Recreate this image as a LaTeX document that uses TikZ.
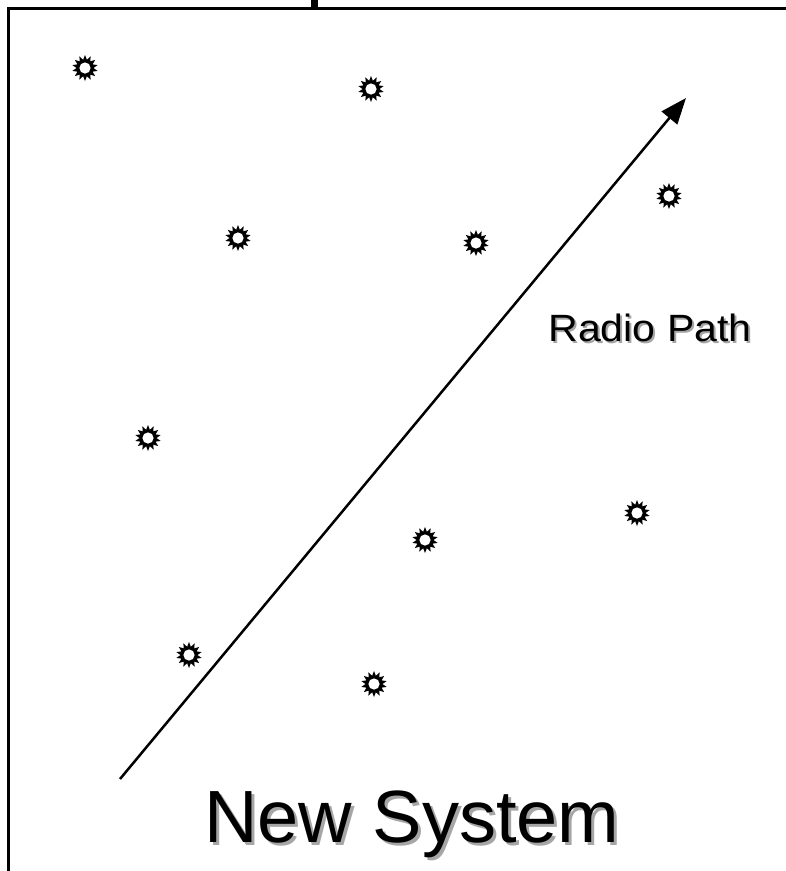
\documentclass[tikz,border=0pt]{standalone}
\usepackage{fontspec}
\setmainfont{Liberation Sans}
\usetikzlibrary{shapes.geometric,arrows.meta}
\begin{document}
\begin{tikzpicture}[x=1pt,y=-1pt,
  burst/.style={star, star points=14, star point ratio=1.55, fill=black, draw=none,
    minimum size=26pt, inner sep=0pt,
    path picture={\fill[white] (path picture bounding box.center) circle (5.6pt);}},
  frame/.style={line width=3pt, line cap=rect},
  label/.style={inner sep=0pt, anchor=center},
  shadow/.style={text=black!35}]
\useasboundingbox (0,0) rectangle (786,871);
% frame
\draw[frame] (8.5,871) -- (8.5,8) -- (790,8);
\fill (311,0) rectangle (318,8);
% stars
\node[burst] (s1) at (85,68) {};
\node[burst] (s2) at (371,89) {};
\node[burst] (s3) at (238,238) {};
\node[burst] (s4) at (476,243) {};
\node[burst] (s5) at (669,196) {};
\node[burst] (s6) at (148,438) {};
\node[burst] (s7) at (425,540) {};
\node[burst] (s8) at (637,513) {};
\node[burst] (s9) at (189,655) {};
\node[burst] (s10) at (374,684) {};
% arrow
\coordinate (a0) at (120,779);
\coordinate (a1) at (686,98);
\draw[line width=2.5pt, -{Triangle[length=26pt,width=20pt]}] (a0) -- (a1);
% labels
\node[label, shadow, xscale=1.08, font=\fontsize{38}{38}\selectfont] at (652,330) {Radio Path};
\node[label, xscale=1.08, font=\fontsize{38}{38}\selectfont] (rp) at (650,328) {Radio Path};
\node[label, shadow, font=\fontsize{74}{74}\selectfont] at (415,827) {New System};
\node[label, font=\fontsize{74}{74}\selectfont] (ns) at (412,824) {New System};
\end{tikzpicture}
\end{document}
